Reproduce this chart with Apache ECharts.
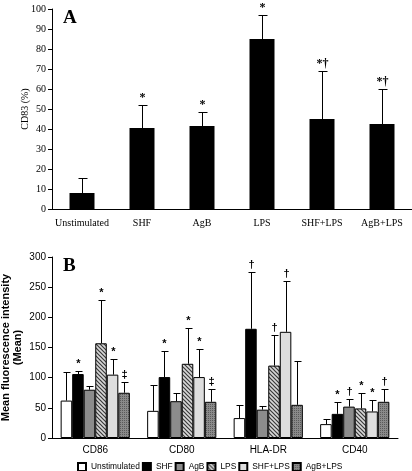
<!DOCTYPE html>
<html><head><meta charset="utf-8">
<script src="https://cdn.jsdelivr.net/npm/echarts@6/dist/echarts.min.js"></script>
<style>html,body{margin:0;padding:0;background:#fff}#c{width:412px;height:471px}</style>
</head><body><div id="c"></div>
<script>
// ---- Panel A data ----
const catsA = ['Unstimulated', 'SHF', 'AgB', 'LPS', 'SHF+LPS', 'AgB+LPS'];
const cd83 = [8, 40.5, 41.5, 85, 45, 42.5];
const cd83Err = [15.5, 52, 48.5, 97, 69, 60];
const cd83Mark = ['', '*', '*', '*', '*†', '*†'];
const ticksA = [0, 10, 20, 30, 40, 50, 60, 70, 80, 90, 100];

// ---- Panel B data ----
const catsB = ['CD86', 'CD80', 'HLA-DR', 'CD40'];
const groupNames = ['Unstimulated', 'SHF', 'AgB', 'LPS', 'SHF+LPS', 'AgB+LPS'];
const unstim = [62, 45, 33, 23];
const unstimErr = [109, 88, 54, 31];
const unstimMark = ['', '', '', ''];
const shf = [106, 101, 181, 40];
const shfErr = [111, 145, 275, 59];
const shfMark = ['*', '*', '†', '*'];
const agb = [80, 61, 47, 52];
const agbErr = [87, 75, 53, 65];
const agbMark = ['', '', '', '†'];
const lps = [157, 123, 120, 49];
const lpsErr = [229, 182, 170, 74];
const lpsMark = ['*', '*', '†', '*'];
const shfLps = [105, 101, 176, 44];
const shfLpsErr = [131, 148, 261, 63];
const shfLpsMark = ['*', '*', '†', '*'];
const agbLps = [75, 60, 55, 60];
const agbLpsErr = [93, 82, 127, 82];
const agbLpsMark = ['‡', '‡', '', '†'];
const ticksB = [0, 50, 100, 150, 200, 250, 300];

const valsB = [unstim, shf, agb, lps, shfLps, agbLps];
const errsB = [unstimErr, shfErr, agbErr, lpsErr, shfLpsErr, agbLpsErr];
const marksB = [unstimMark, shfMark, agbMark, lpsMark, shfLpsMark, agbLpsMark];

function hatch(bg, fg) {
  const c = document.createElement('canvas'); c.width = 4; c.height = 4;
  const g = c.getContext('2d');
  g.fillStyle = bg; g.fillRect(0, 0, 4, 4);
  g.strokeStyle = fg; g.lineWidth = 1.2;
  g.beginPath(); g.moveTo(0, 0); g.lineTo(4, 4); g.moveTo(-1, 3); g.lineTo(1, 5); g.moveTo(3, -1); g.lineTo(5, 1); g.stroke();
  return { image: c, repeat: 'repeat' };
}
function dots(bg, fg) {
  const c = document.createElement('canvas'); c.width = 2; c.height = 2;
  const g = c.getContext('2d');
  g.fillStyle = bg; g.fillRect(0, 0, 2, 2);
  g.fillStyle = fg; g.fillRect(0, 0, 1, 1);
  return { image: c, repeat: 'repeat' };
}
const fillsB = ['#ffffff', '#000000', '#8c8c8c', hatch('#d8d8d8', '#3a3a3a'), '#dedede', dots('#8a8a8a', '#5a5a5a')];

const serif = 'Liberation Serif';
const sans = 'Liberation Sans';
const gapRatio = 0.2;

function errRender(nBars, barIndex, marks, fontFamily, fontSize, capHalf) {
  return function (params, api) {
    const base = api.coord([api.value(0), api.value(1)]);
    const top = api.coord([api.value(0), api.value(2)]);
    const band = api.size([1, 0])[0];
    let x = base[0];
    if (nBars > 1) {
      const barW = band * (1 - gapRatio) / nBars;
      x = base[0] - band * (1 - gapRatio) / 2 + (barIndex + 0.5) * barW;
    }
    x = Math.round(x) + 0.5;
    const ty = Math.round(top[1]) + 0.5;
    const st = { stroke: '#000', lineWidth: 1 };
    const children = [
      { type: 'line', shape: { x1: x, y1: base[1], x2: x, y2: ty }, style: st },
      { type: 'line', shape: { x1: x - capHalf, y1: ty, x2: x + capHalf + 1, y2: ty }, style: st }
    ];
    const m = marks[params.dataIndex];
    if (m) {
      children.push({ type: 'text', style: { text: m, x: x, y: ty - 2, textAlign: 'center', textVerticalAlign: 'bottom', fontFamily: fontFamily, fontSize: fontSize, fontWeight: 'bold', fill: '#000' } });
    }
    return { type: 'group', children: children };
  };
}

const series = [];
series.push({ name: 'CD83', type: 'bar', xAxisIndex: 0, yAxisIndex: 0, data: cd83, barWidth: 25, itemStyle: { color: '#000' }, silent: true });
series.push({
  name: 'errA', type: 'custom', xAxisIndex: 0, yAxisIndex: 0, z: 5,
  data: cd83.map((v, i) => [i, v, cd83Err[i]]),
  renderItem: errRender(1, 0, cd83Mark, serif, 12, 4)
});
groupNames.forEach((g, k) => {
  series.push({
    name: g, type: 'bar', xAxisIndex: 1, yAxisIndex: 1, data: valsB[k],
    barGap: '0%', barCategoryGap: (gapRatio * 100) + '%',
    itemStyle: { color: fillsB[k], borderColor: '#000', borderWidth: 1 }
  });
});
groupNames.forEach((g, k) => {
  series.push({
    name: 'err ' + g, type: 'custom', xAxisIndex: 1, yAxisIndex: 1, z: 5,
    data: valsB[k].map((v, i) => [i, v, errsB[k][i]]),
    renderItem: errRender(6, k, marksB[k], sans, 11, 3)
  });
});

const chart = echarts.init(document.getElementById('c'), null, { renderer: 'canvas' });
chart.setOption({
  animation: false,
  backgroundColor: '#fff',
  grid: [
    { left: 52, top: 9, width: 360, height: 200, containLabel: false, outerBoundsMode: 'none' },
    { left: 52, top: 257, width: 346, height: 181, containLabel: false, outerBoundsMode: 'none' }
  ],
  graphic: [
    { type: 'text', left: 63, top: 9, style: { text: 'A', fontFamily: serif, fontWeight: 'bold', fontSize: 19, fill: '#000' } },
    { type: 'text', left: 63, top: 257, style: { text: 'B', fontFamily: serif, fontWeight: 'bold', fontSize: 19, fill: '#000' } }
  ],
  legend: {
    data: groupNames, left: 72, top: 457, itemWidth: 8, itemHeight: 8, itemGap: 2, icon: 'rect',
    textStyle: { fontFamily: sans, fontSize: 8.4, color: '#000' },
    selectedMode: false
  },
  xAxis: [
    { type: 'category', gridIndex: 0, data: catsA,
      axisLine: { lineStyle: { color: '#000' } },
      axisTick: { lineStyle: { color: '#000' }, length: 4 },
      axisLabel: { fontFamily: serif, fontSize: 10, color: '#000', margin: 9, interval: 0 } },
    { type: 'category', gridIndex: 1, data: catsB,
      axisLine: { lineStyle: { color: '#000' } },
      axisTick: { lineStyle: { color: '#000' }, length: 4 },
      axisLabel: { fontFamily: sans, fontSize: 10, color: '#000', margin: 7, interval: 0 } }
  ],
  yAxis: [
    { type: 'value', gridIndex: 0, min: ticksA[0], max: ticksA[ticksA.length - 1], interval: 10,
      name: 'CD83 (%)', nameLocation: 'middle', nameGap: 22, nameRotate: 90, nameMoveOverlap: false,
      nameTextStyle: { fontFamily: serif, fontSize: 10, color: '#000' },
      splitLine: { show: false },
      axisLine: { show: true, lineStyle: { color: '#000' } },
      axisTick: { show: true, length: 4, lineStyle: { color: '#000' } },
      axisLabel: { fontFamily: serif, fontSize: 10, color: '#000', margin: 6 } },
    { type: 'value', gridIndex: 1, min: ticksB[0], max: ticksB[ticksB.length - 1], interval: 50,
      name: 'Mean fluorescence intensity\n(Mean)', nameLocation: 'middle', nameGap: 28, nameRotate: 90, nameMoveOverlap: false,
      nameTextStyle: { fontFamily: sans, fontSize: 11, fontWeight: 'bold', color: '#000', lineHeight: 12 },
      splitLine: { show: false },
      axisLine: { show: true, lineStyle: { color: '#000' } },
      axisTick: { show: true, length: 4, lineStyle: { color: '#000' } },
      axisLabel: { fontFamily: sans, fontSize: 10, color: '#000', margin: 6 } }
  ],
  series: series
});
</script></body></html>
